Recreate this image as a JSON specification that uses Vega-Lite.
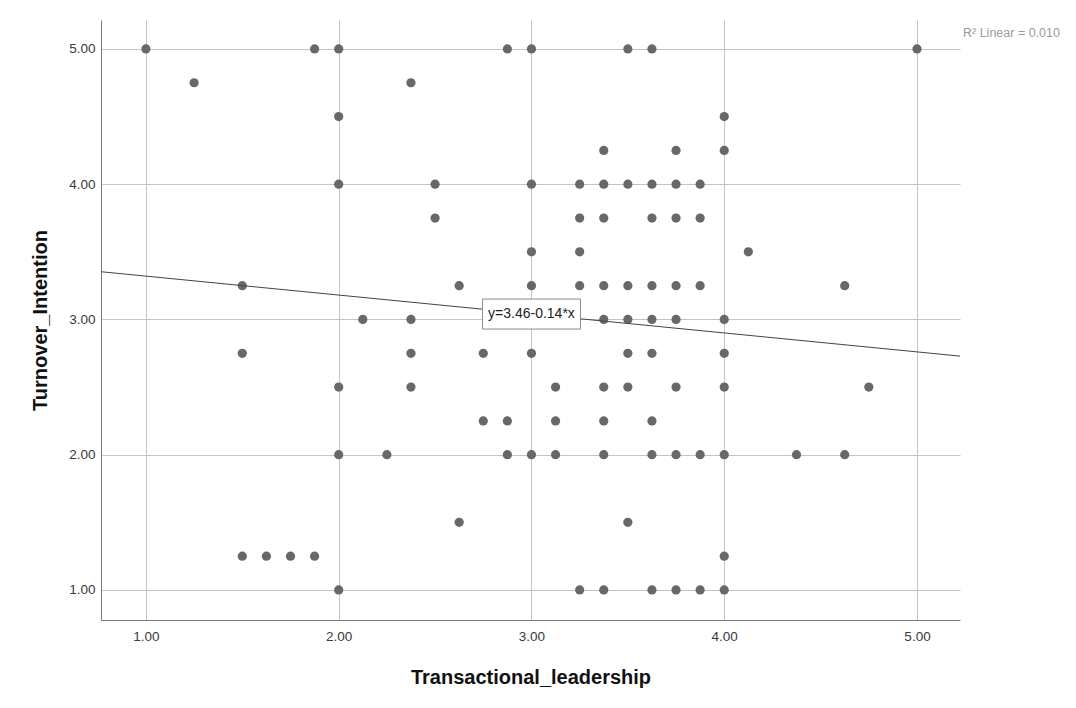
{
  "$schema": "https://vega.github.io/schema/vega-lite/v6.json",
  "width": 859,
  "height": 600,
  "autosize": {"type": "none"},
  "padding": {"left": 101, "top": 20, "right": 116, "bottom": 88},
  "background": "white",
  "config": {
    "view": {"stroke": null},
    "font": "Liberation Sans"
  },
  "datasets": {
    "points": [
      {"x": 1.0, "y": 5.0}, {"x": 1.875, "y": 5.0}, {"x": 2.0, "y": 5.0}, {"x": 2.875, "y": 5.0}, {"x": 3.0, "y": 5.0}, {"x": 3.5, "y": 5.0}, {"x": 3.625, "y": 5.0}, {"x": 5.0, "y": 5.0},
      {"x": 1.25, "y": 4.75}, {"x": 2.375, "y": 4.75},
      {"x": 2.0, "y": 4.5}, {"x": 4.0, "y": 4.5},
      {"x": 3.375, "y": 4.25}, {"x": 3.75, "y": 4.25}, {"x": 4.0, "y": 4.25},
      {"x": 2.0, "y": 4.0}, {"x": 2.5, "y": 4.0}, {"x": 3.0, "y": 4.0}, {"x": 3.25, "y": 4.0}, {"x": 3.375, "y": 4.0}, {"x": 3.5, "y": 4.0}, {"x": 3.625, "y": 4.0}, {"x": 3.75, "y": 4.0}, {"x": 3.875, "y": 4.0},
      {"x": 2.5, "y": 3.75}, {"x": 3.25, "y": 3.75}, {"x": 3.375, "y": 3.75}, {"x": 3.625, "y": 3.75}, {"x": 3.75, "y": 3.75}, {"x": 3.875, "y": 3.75},
      {"x": 3.0, "y": 3.5}, {"x": 3.25, "y": 3.5}, {"x": 4.125, "y": 3.5},
      {"x": 1.5, "y": 3.25}, {"x": 2.625, "y": 3.25}, {"x": 3.0, "y": 3.25}, {"x": 3.25, "y": 3.25}, {"x": 3.375, "y": 3.25}, {"x": 3.5, "y": 3.25}, {"x": 3.625, "y": 3.25}, {"x": 3.75, "y": 3.25}, {"x": 3.875, "y": 3.25}, {"x": 4.625, "y": 3.25},
      {"x": 2.125, "y": 3.0}, {"x": 2.375, "y": 3.0}, {"x": 3.375, "y": 3.0}, {"x": 3.5, "y": 3.0}, {"x": 3.625, "y": 3.0}, {"x": 3.75, "y": 3.0}, {"x": 4.0, "y": 3.0},
      {"x": 1.5, "y": 2.75}, {"x": 2.375, "y": 2.75}, {"x": 2.75, "y": 2.75}, {"x": 3.0, "y": 2.75}, {"x": 3.5, "y": 2.75}, {"x": 3.625, "y": 2.75}, {"x": 4.0, "y": 2.75},
      {"x": 2.0, "y": 2.5}, {"x": 2.375, "y": 2.5}, {"x": 3.125, "y": 2.5}, {"x": 3.375, "y": 2.5}, {"x": 3.5, "y": 2.5}, {"x": 3.75, "y": 2.5}, {"x": 4.0, "y": 2.5}, {"x": 4.75, "y": 2.5},
      {"x": 2.75, "y": 2.25}, {"x": 2.875, "y": 2.25}, {"x": 3.125, "y": 2.25}, {"x": 3.375, "y": 2.25}, {"x": 3.625, "y": 2.25},
      {"x": 2.0, "y": 2.0}, {"x": 2.25, "y": 2.0}, {"x": 2.875, "y": 2.0}, {"x": 3.0, "y": 2.0}, {"x": 3.125, "y": 2.0}, {"x": 3.375, "y": 2.0}, {"x": 3.625, "y": 2.0}, {"x": 3.75, "y": 2.0}, {"x": 3.875, "y": 2.0}, {"x": 4.0, "y": 2.0}, {"x": 4.375, "y": 2.0}, {"x": 4.625, "y": 2.0},
      {"x": 2.625, "y": 1.5}, {"x": 3.5, "y": 1.5},
      {"x": 1.5, "y": 1.25}, {"x": 1.625, "y": 1.25}, {"x": 1.75, "y": 1.25}, {"x": 1.875, "y": 1.25}, {"x": 4.0, "y": 1.25},
      {"x": 2.0, "y": 1.0}, {"x": 3.25, "y": 1.0}, {"x": 3.375, "y": 1.0}, {"x": 3.625, "y": 1.0}, {"x": 3.75, "y": 1.0}, {"x": 3.875, "y": 1.0}, {"x": 4.0, "y": 1.0}
    ],
    "fit": [
      {"x": 0.767, "y": 3.353},
      {"x": 5.223, "y": 2.729}
    ],
    "eq": [
      {"x": 3.0, "y": 3.04, "label": "y=3.46-0.14*x"}
    ],
    "r2": [
      {"x": 5.223, "y": 5.12, "label": "R² Linear = 0.010"}
    ]
  },
  "encoding": {
    "x": {
      "field": "x",
      "type": "quantitative",
      "scale": {"domain": [0.767, 5.223], "nice": false, "zero": false},
      "axis": {
        "title": "Transactional_leadership",
        "values": [1, 2, 3, 4, 5],
        "format": ".2f",
        "grid": true,
        "gridColor": "#c4c4c4",
        "gridWidth": 1,
        "domainColor": "#7a7a7a",
        "domainWidth": 1,
        "ticks": false,
        "labelPadding": 9,
        "labelFont": "Liberation Sans",
        "labelFontSize": 13.5,
        "labelColor": "#3a3a3a",
        "titleFont": "Liberation Sans",
        "titleFontSize": 20,
        "titleFontWeight": "bold",
        "titleColor": "#111111",
        "titlePadding": 25
      }
    },
    "y": {
      "field": "y",
      "type": "quantitative",
      "scale": {"domain": [0.778, 5.214], "nice": false, "zero": false},
      "axis": {
        "title": "Turnover_Intention",
        "values": [1, 2, 3, 4, 5],
        "format": ".2f",
        "grid": true,
        "gridColor": "#c4c4c4",
        "gridWidth": 1,
        "domainColor": "#7a7a7a",
        "domainWidth": 1,
        "ticks": false,
        "labelPadding": 6,
        "labelFont": "Liberation Sans",
        "labelFontSize": 13.5,
        "labelColor": "#3a3a3a",
        "titleFont": "Liberation Sans",
        "titleFontSize": 20,
        "titleFontWeight": "bold",
        "titleColor": "#111111",
        "titlePadding": 18
      }
    }
  },
  "layer": [
    {
      "data": {"name": "points"},
      "mark": {"type": "circle", "size": 85, "color": "#686868", "opacity": 1}
    },
    {
      "data": {"name": "fit"},
      "mark": {"type": "line", "color": "#444444", "strokeWidth": 1}
    },
    {
      "data": {"name": "eq"},
      "mark": {"type": "point", "shape": "M-1,-0.306H1V0.306H-1Z", "size": 9604, "filled": true, "fill": "white", "stroke": "#8a8a8a", "strokeWidth": 1, "opacity": 1}
    },
    {
      "data": {"name": "eq"},
      "mark": {"type": "text", "font": "Liberation Sans", "fontSize": 14, "color": "#222222", "align": "center", "baseline": "middle"},
      "encoding": {"text": {"field": "label"}}
    },
    {
      "data": {"name": "r2"},
      "mark": {"type": "text", "font": "Liberation Sans", "fontSize": 12.5, "color": "#9a9a9a", "align": "left", "baseline": "middle", "dx": 3, "clip": false},
      "encoding": {"text": {"field": "label"}}
    }
  ]
}
